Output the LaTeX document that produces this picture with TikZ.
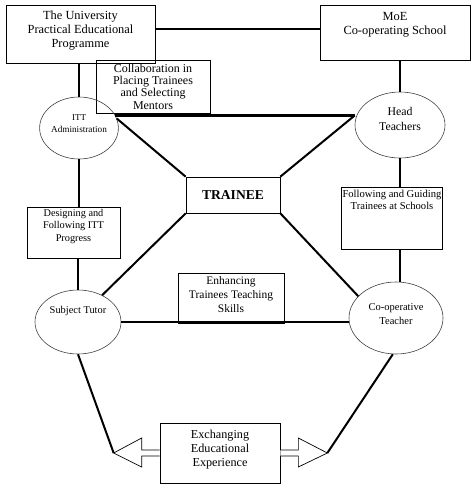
\documentclass[tikz,border=0pt]{standalone}
\usepackage{fontspec}
\setmainfont{Liberation Serif}
\usetikzlibrary{shapes.geometric, calc}

\begin{document}
\begin{tikzpicture}[
		x=1pt, y=-1pt,
		box/.style={draw, line width=0.7pt, align=center, inner sep=1pt, font=\fontsize{12.4}{14}\selectfont},
		oval/.style={draw, ellipse, line width=0.6pt, draw=black!75, align=center, inner sep=0pt},
		link/.style={line width=2.6pt},
		diag/.style={line width=2pt},
		hollow/.style={draw, line width=0.7pt, fill=white},
	]
		\useasboundingbox (0,0) rectangle (474,488);

		% top boxes
		\node[box, minimum width=149pt, minimum height=58pt, text depth=9pt] (univ) at (80.5,34) {The University\\Practical Educational\\Programme};
		\node[box, minimum width=150pt, minimum height=55pt, text depth=18pt] (moe) at (395,32.5) {MoE\\Co-operating School};
		\node[box, minimum width=114pt, minimum height=53pt, inner ysep=0pt, font=\fontsize{12}{12.4}\selectfont] (collab) at (153,86.5) {Collaboration in\\Placing Trainees\\and Selecting\\Mentors};

		% ellipses
		\node[oval, minimum width=78pt, minimum height=62pt, text depth=9pt] (itt) at (79,128) {{\fontsize{9}{11}\selectfont ITT}\\{\fontsize{9.2}{12}\selectfont Administration}};
		\node[oval, minimum width=90pt, minimum height=66pt, text depth=12pt, font=\fontsize{11.8}{15}\selectfont] (head) at (400,125) {Head\\Teachers};
		\node[oval, minimum width=86pt, minimum height=64pt, text depth=24pt, font=\fontsize{10.4}{12}\selectfont] (tutor) at (78,322) {Subject Tutor};
		\node[oval, minimum width=94pt, minimum height=72pt, text depth=7pt, font=\fontsize{10.5}{14}\selectfont] (coop) at (396,318) {Co-operative\\Teacher};

		% middle boxes
		\node[box, minimum width=94pt, minimum height=36pt, font=\fontsize{13.6}{15}\selectfont\bfseries] (trainee) at (233,195) {TRAINEE};
		\node[box, minimum width=93pt, minimum height=51pt, text depth=15pt, font=\fontsize{10.3}{12.5}\selectfont] (design) at (73.5,232.5) {Designing and\\Following ITT\\Progress};
		\node[box, minimum width=100pt, minimum height=62pt, text depth=36pt, font=\fontsize{10.6}{12.5}\selectfont] (follow) at (392,218) {Following and Guiding\\Trainees at Schools};
		\node[box, minimum width=106pt, minimum height=50pt, text depth=6pt, font=\fontsize{11.5}{14}\selectfont] (enhance) at (231,298) {Enhancing\\Trainees Teaching\\Skills};
		\node[box, minimum width=120pt, minimum height=60pt, text depth=10pt, font=\fontsize{12.2}{14}\selectfont] (exch) at (220,453) {Exchanging\\Educational\\Experience};

		% hollow arrow heads on the exchange box
		\draw[hollow] ([shift={(0,-3)}]exch.west) -- ++(-18,0) -- ++(0,-12)
			-- ++(-28,15) coordinate (ltip) -- ++(28,14) -- ++(0,-11) -- ([shift={(0,3)}]exch.west);
		\draw[hollow] ([shift={(0,-3)}]exch.east) -- ++(18,0) -- ++(0,-12)
			-- ++(29,15) coordinate (rtip) -- ++(-29,14) -- ++(0,-11) -- ([shift={(0,3)}]exch.east);

		% left column
		\draw[link] (itt.north |- univ.south) -- (itt.north);
		\draw[link] (itt.south) -- (itt.south |- design.north);
		\draw[link] (design.south -| tutor.north) -- (tutor.north);

		% right column
		\draw[link] (moe.south -| head.north) -- (head.north);
		\draw[link] (head.south) -- (head.south |- follow.north);
		\draw[link] (follow.south -| head.south) -- (coop.north -| head.south);

		% horizontals
		\draw[link] ([yshift=5pt]univ.east) -- ([yshift=5pt]univ.east -| moe.west);
		\draw[link] (itt.19) -- (itt.19 -| head.west);
		\draw[link] (tutor.east) -- (tutor.east -| coop.west);

		% diagonals to the trainee
		\draw[diag] (itt.14) -- (trainee.north west);
		\draw[diag] (itt.19 -| head.west) -- (trainee.north east);
		\draw[diag] (trainee.south west) -- (tutor.48);
		\draw[diag] (trainee.south east) -- (coop.150);

		% bottom links
		\draw[diag] (tutor.south) -- (ltip);
		\draw[diag] (coop.265) -- (rtip);
	\end{tikzpicture}
\end{document}
